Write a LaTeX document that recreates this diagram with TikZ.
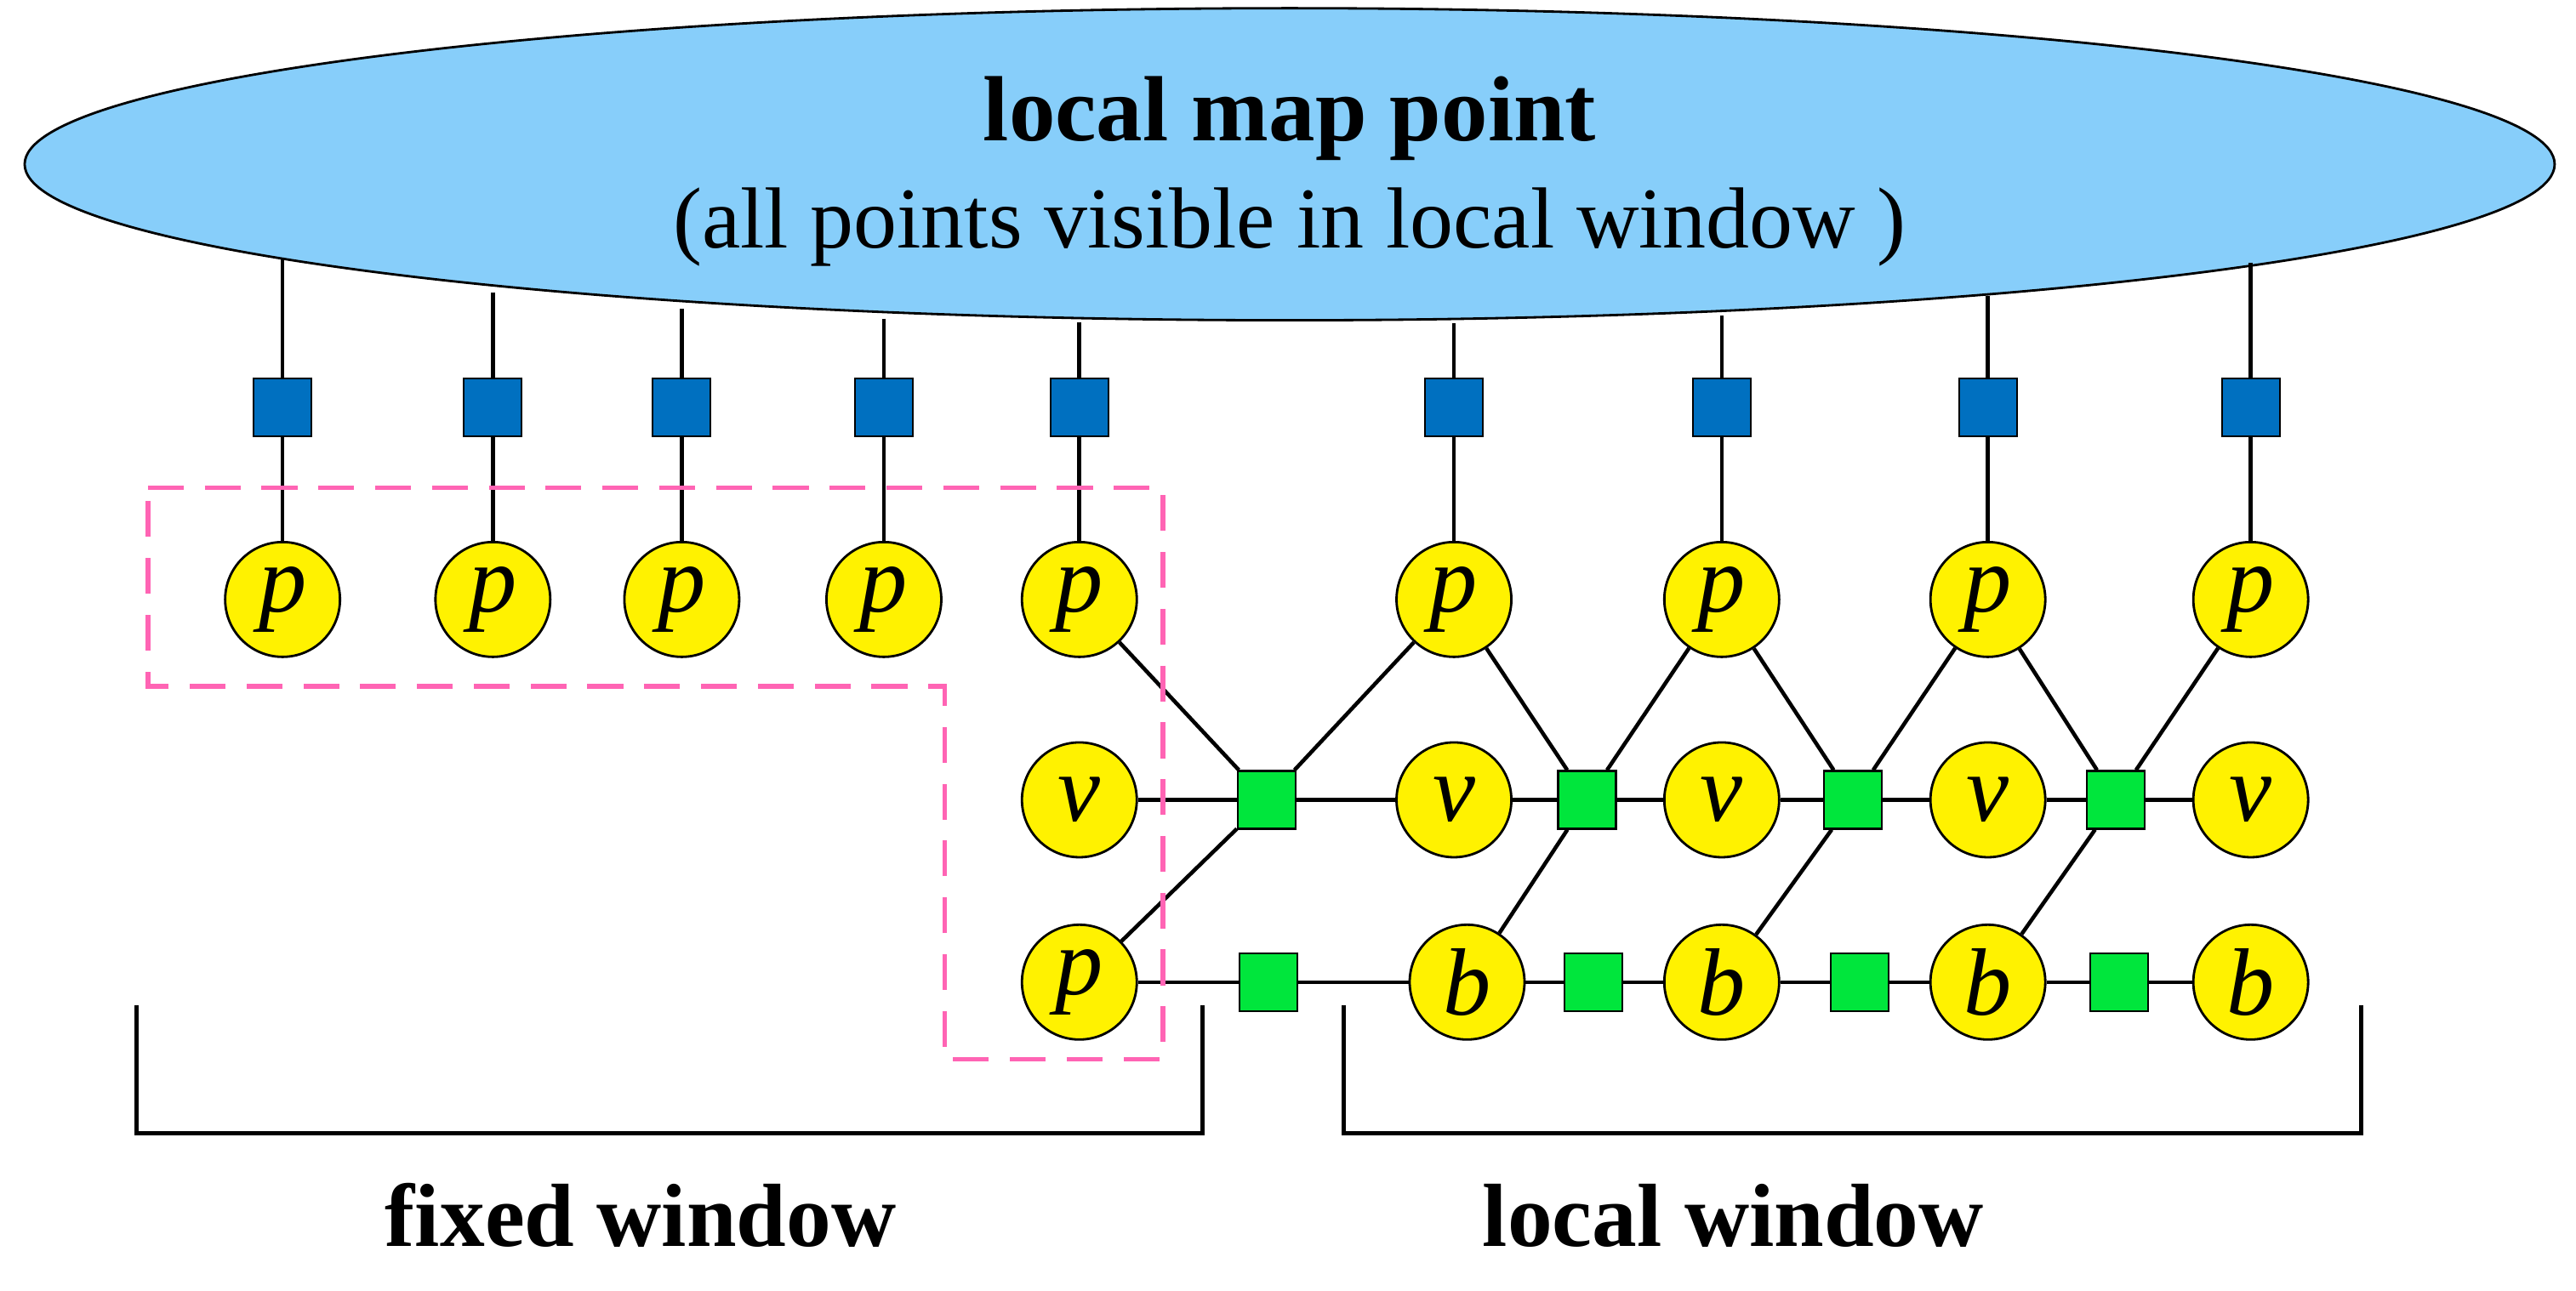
\documentclass[tikz,border=0pt]{standalone}
\usepackage{fontspec}
\setmainfont{Liberation Serif}
\usetikzlibrary{shapes.geometric}
\definecolor{sky}{RGB}{135,206,250}
\definecolor{fb}{RGB}{0,112,192}
\definecolor{fg}{RGB}{0,230,60}
\definecolor{pk}{RGB}{255,100,180}
\begin{document}
\begin{tikzpicture}[x=0.1931mm,y=-0.1931mm,
  var/.style={circle,draw=black,line width=0.8pt,fill=yellow,minimum size=13.5mm,inner sep=0pt,font=\fontsize{32}{34}\selectfont\itshape},
  bsq/.style={rectangle,draw=black,line width=0.6pt,fill=fb,minimum size=6.8mm,inner sep=0pt},
  gsq/.style={rectangle,draw=black,line width=0.6pt,fill=fg,minimum size=6.8mm,inner sep=0pt},
  edge/.style={line width=1.3pt},
  lbl/.style={font=\fontsize{30}{32}\selectfont\bfseries}]
\useasboundingbox (0,0) rectangle (1568,786);
\node[ellipse,draw=black,line width=0.8pt,fill=sky,minimum width=1540*0.1931mm,minimum height=190*0.1931mm] (map) at (785,100) {};
\node[font=\fontsize{31}{33}\selectfont\bfseries] (t1) at (785,72) {local map point};
\node[font=\fontsize{29}{31}\selectfont] (t2) at (785,138) {(all points visible in local window )};
% top row
\foreach \i/\x/\ty in {1/172/158,2/300/178,3/415/188,4/538/194,5/657/196,6/885/197,7/1048/192,8/1210/180,9/1370/160}{
  \coordinate (e\i) at (\x,\ty);
  \node[var] (p\i) at (\x,365) {p};
  \node[bsq] (s\i) at (\x,248) {};
  \draw[edge] (e\i) -- (s\i) -- (p\i);
}
% middle row
\foreach \i/\x in {1/657,2/885,3/1048,4/1210,5/1370}{\node[var] (v\i) at (\x,487) {v};}
\foreach \i/\x in {1/771,2/966,3/1128,4/1288}{\node[gsq] (g\i) at (\x,487) {};}
% bottom row
\node[var] (pb) at (657,598) {p};
\foreach \i/\x in {1/893,2/1048,3/1210,4/1370}{\node[var] (b\i) at (\x,598) {b};}
\foreach \i/\x in {1/772,2/970,3/1132,4/1290}{\node[gsq] (h\i) at (\x,598) {};}
% edges
\draw[edge] (p5) -- (g1); \draw[edge] (p6) -- (g1);
\draw[edge] (v1) -- (g1) -- (v2); \draw[edge] (g1) -- (pb);
\draw[edge] (p6) -- (g2); \draw[edge] (p7) -- (g2); \draw[edge] (v2) -- (g2) -- (v3); \draw[edge] (g2) -- (b1);
\draw[edge] (p7) -- (g3); \draw[edge] (p8) -- (g3); \draw[edge] (v3) -- (g3) -- (v4); \draw[edge] (g3) -- (b2);
\draw[edge] (p8) -- (g4); \draw[edge] (p9) -- (g4); \draw[edge] (v4) -- (g4) -- (v5); \draw[edge] (g4) -- (b3);
\draw[edge] (pb) -- (h1) -- (b1) -- (h2) -- (b2) -- (h3) -- (b3) -- (h4) -- (b4);
% dashed region
\draw[pk,line width=1.6pt,dash pattern=on 12pt off 7pt] (90,297) -- (708,297) -- (708,645) -- (575,645) -- (575,418) -- (90,418) -- cycle;
% brackets
\draw[line width=1.4pt] (83,612) -- (83,690) -- (732,690) -- (732,612);
\draw[line width=1.4pt] (818,612) -- (818,690) -- (1437,690) -- (1437,612);
\node[lbl] (fw) at (390,740) {fixed window};
\node[lbl] (lw) at (1055,740) {local window};
\end{tikzpicture}
\end{document}
